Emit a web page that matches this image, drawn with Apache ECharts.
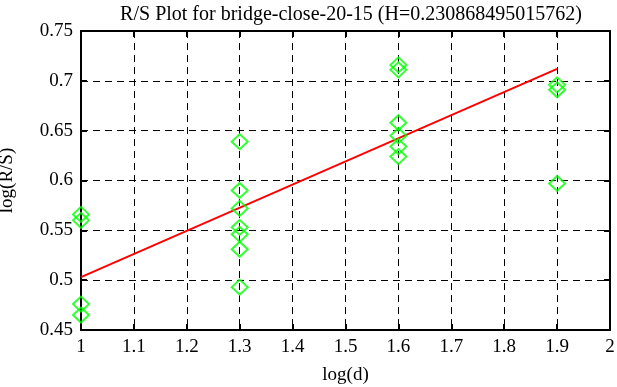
<!DOCTYPE html>
<html>
<head>
<meta charset="utf-8">
<script src="https://cdn.jsdelivr.net/npm/echarts@6/dist/echarts.min.js"></script>
<style>
  html, body { margin: 0; padding: 0; background: #fff; }
  #chart { width: 617px; height: 387px; }
</style>
</head>
<body>
<div id="chart"></div>
<script>
// R/S points (log(d), log(R/S))
var logD1 = [1, 1, 1, 1];
var logRS1 = [0.566, 0.560, 0.476, 0.465];
var logD2 = [1.3, 1.3, 1.3, 1.3, 1.3, 1.3, 1.3];
var logRS2 = [0.639, 0.590, 0.572, 0.553, 0.546, 0.531, 0.493];
var logD3 = [1.6, 1.6, 1.6, 1.6, 1.6, 1.6];
var logRS3 = [0.716, 0.711, 0.658, 0.645, 0.634, 0.624];
var logD4 = [1.9, 1.9, 1.9];
var logRS4 = [0.696, 0.691, 0.597];
// fitted line end points
var fitX = [1, 1.9];
var fitY = [0.503, 0.712];

var xTicks = [1, 1.1, 1.2, 1.3, 1.4, 1.5, 1.6, 1.7, 1.8, 1.9, 2];
var yTicks = [0.45, 0.5, 0.55, 0.6, 0.65, 0.7, 0.75];

function pairs(xs, ys) {
    var out = [];
    for (var i = 0; i < xs.length; i++) {
        out.push([xs[i], ys[i]]);
    }
    return out;
}

var points = []
    .concat(pairs(logD1, logRS1))
    .concat(pairs(logD2, logRS2))
    .concat(pairs(logD3, logRS3))
    .concat(pairs(logD4, logRS4));

var font = 'Liberation Serif';
var gridDash = {color: '#000', width: 1, type: [7, 5]};
var frame = {show: true, lineStyle: {color: '#000', width: 2}};
var tick = {show: true, inside: true, length: 6, lineStyle: {color: '#000', width: 2}};

var chart = echarts.init(document.getElementById('chart'));
chart.setOption({
    animation: false,
    backgroundColor: '#fff',
    title: {
        text: 'R/S Plot for bridge-close-20-15 (H=0.230868495015762)',
        left: 346,
        top: 0,
        textAlign: 'center',
        textStyle: {fontFamily: font, fontSize: 20, fontWeight: 'normal', color: '#000'}
    },
    grid: {left: 81, right: 7, top: 31, bottom: 57, outerBoundsMode: 'none', containLabel: false},
    xAxis: [{
        type: 'value',
        min: 1, max: 2, interval: 0.1,
        name: 'log(d)',
        nameLocation: 'middle',
        nameGap: 36,
        nameTextStyle: {fontFamily: font, fontSize: 19, color: '#000'},
        axisLine: frame,
        axisTick: tick,
        axisLabel: {
            fontFamily: font, fontSize: 19, color: '#000', margin: 8,
            formatter: function (v) { return String(Math.round(v * 10) / 10); }
        },
        splitLine: {show: true, lineStyle: gridDash}
    }, {
        type: 'value', position: 'top',
        min: 1, max: 2, interval: 0.1,
        axisLine: frame,
        axisTick: tick,
        axisLabel: {show: false},
        splitLine: {show: false}
    }],
    yAxis: [{
        type: 'value',
        min: 0.45, max: 0.75, interval: 0.05,
        name: 'log(R/S)',
        nameLocation: 'middle',
        nameGap: 64,
        nameTextStyle: {fontFamily: font, fontSize: 19, color: '#000', padding: [0, 0, 0, 0]},
        axisLine: frame,
        axisTick: tick,
        axisLabel: {
            fontFamily: font, fontSize: 19, color: '#000', margin: 8,
            formatter: function (v) { return String(Math.round(v * 100) / 100); }
        },
        splitLine: {show: true, lineStyle: gridDash}
    }, {
        type: 'value', position: 'right',
        min: 0.45, max: 0.75, interval: 0.05,
        axisLine: frame,
        axisTick: tick,
        axisLabel: {show: false},
        splitLine: {show: false}
    }],
    series: [{
        type: 'line',
        data: pairs(fitX, fitY),
        symbol: 'none',
        lineStyle: {color: '#ff0000', width: 2},
        z: 3
    }, {
        type: 'scatter',
        data: points,
        symbol: 'diamond',
        symbolSize: [16, 15],
        itemStyle: {color: 'rgba(0,0,0,0)', borderColor: '#00ff00', borderWidth: 2},
        z: 4
    }]
});
</script>
</body>
</html>
